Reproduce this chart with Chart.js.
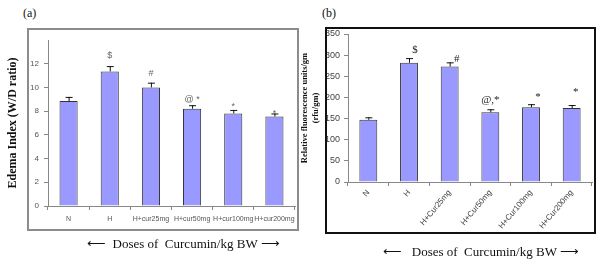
<!DOCTYPE html>
<html lang="en">
<head>
  <meta charset="UTF-8">
  <title>Edema index and fluorescence</title>
  <script src="https://cdn.jsdelivr.net/npm/chart.js@4"></script>
  <style>
    body {
      margin: 0;
      padding: 0;
      background: #fff;
      width: 600px;
      height: 263px;
      position: relative;
      overflow: hidden;
      font-family: "Liberation Serif", serif;
    }
    canvas { position: absolute; top: 0; }
    #chartA { left: 0; }
    #chartB { left: 300px; }
    .frame { position: absolute; box-sizing: border-box; pointer-events: none; }
    #frameA { left: 27px; top: 28px; width: 272px; height: 203px; border: 2px solid #8c8c8c; }
    #frameB { left: 325px; top: 27px; width: 271px; height: 207px; border: 2px solid #111; }
    .panel { position: absolute; font-size: 12px; color: #111; }
    .doses { position: absolute; font-size: 13px; color: #111; white-space: nowrap; }
  </style>
</head>
<body>
  <div class="panel" style="left:23px;top:6px;">(a)</div>
  <div class="panel" style="left:322px;top:6px;">(b)</div>

  <canvas id="chartA" width="300" height="263"></canvas>
  <canvas id="chartB" width="300" height="263"></canvas>

  <div class="frame" id="frameA"></div>
  <div class="frame" id="frameB"></div>

  <div class="doses" style="left:87px;top:236px;">&#x27F5;&nbsp; Doses of&nbsp; Curcumin/kg BW &#x27F6;</div>
  <div class="doses" style="left:383px;top:244px;">&#x27F5;&nbsp;&nbsp; Doses of&nbsp; Curcumin/kg BW &#x27F6;</div>

  <script>
    // Painel (a) - indice de edema
    const groupsA = ['N', 'H', 'H+cur25mg', 'H+cur50mg', 'H+cur100mg', 'H+cur200mg'];
    const edemaIndex = [8.85, 11.35, 10.0, 8.2, 7.8, 7.55];
    const edemaError = [0.35, 0.45, 0.4, 0.3, 0.3, 0.25];
    const edemaMarks = ['', '$', '#', '@ *', '*', '*'];
    const edemaMarkAt = [null, 12.7, 11.2, 9.0, 8.4, 7.8];

    // Painel (b) - fluorescencia relativa
    const groupsB = ['N', 'H', 'H+Cur25mg', 'H+Cur50mg', 'H+Cur100mg', 'H+Cur200mg'];
    const rfuValues = [147, 282, 273, 165, 177, 175];
    const rfuError = [6, 11, 10, 7, 7, 7];
    const rfuMarks = ['', '$', '#', '@,*', '*', '*'];
    const rfuMarkAt = [null, 312, 291, 194, 201, 213];

    // desenha barras de erro e marcas de significancia
    const errorPlugin = {
      id: 'errorMarks',
      afterDatasetsDraw(chart, args, opts) {
        const ctx = chart.ctx;
        const meta = chart.getDatasetMeta(0);
        const y = chart.scales.y;
        ctx.save();
        meta.data.forEach((bar, i) => {
          const v = opts.values[i];
          const top = y.getPixelForValue(v + opts.errors[i]);
          const base = y.getPixelForValue(v);
          ctx.strokeStyle = '#111';
          ctx.lineWidth = 1;
          ctx.beginPath();
          ctx.moveTo(bar.x + 0.5, base);
          ctx.lineTo(bar.x + 0.5, top);
          ctx.moveTo(bar.x - 3, top + 0.5);
          ctx.lineTo(bar.x + 4, top + 0.5);
          ctx.stroke();
          if (opts.marks[i]) {
            ctx.fillStyle = opts.markColor;
            ctx.font = opts.markFont;
            ctx.textAlign = 'center';
            ctx.textBaseline = 'middle';
            ctx.fillText(opts.marks[i], bar.x + (opts.shift[i] || 0), y.getPixelForValue(opts.markAt[i]));
          }
        });
        ctx.restore();
      }
    };

    function barDataset(values) {
      return {
        data: values,
        backgroundColor: '#9999ff',
        borderColor: '#333',
        borderWidth: 1,
        barPercentage: 0.44,
        categoryPercentage: 1
      };
    }

    new Chart(document.getElementById('chartA'), {
      type: 'bar',
      data: { labels: groupsA, datasets: [barDataset(edemaIndex)] },
      options: {
        responsive: false,
        animation: false,
        layout: { padding: { left: 0, top: 40, right: 5, bottom: 0 } },
        plugins: {
          legend: { display: false },
          tooltip: { enabled: false },
          errorMarks: {
            values: edemaIndex, errors: edemaError, marks: edemaMarks, markAt: edemaMarkAt,
            shift: [0, 0, 0, 0, 0, 0],
            markColor: '#666', markFont: '9px "Liberation Sans"'
          }
        },
        scales: {
          x: {
            grid: { drawOnChartArea: false, tickLength: 4, color: '#888' },
            border: { color: '#888' },
            ticks: { font: { family: 'Liberation Sans', size: 7 }, color: '#555', autoSkip: false, maxRotation: 0, padding: 5 },
            afterFit: s => { s.height = 57; }
          },
          y: {
            min: 0, max: 14,
            grid: { drawOnChartArea: false, tickLength: 4, color: '#888' },
            border: { color: '#888' },
            ticks: { stepSize: 2, font: { family: 'Liberation Sans', size: 8 }, color: '#555', padding: 5 },
            afterBuildTicks: s => { s.ticks = s.ticks.filter(t => t.value <= 12); },
            title: {
              display: true, text: 'Edema Index (W/D ratio)', color: '#111',
              font: { family: 'Liberation Serif', size: 12, weight: 'bold' },
              padding: { top: 6, bottom: 0 }
            },
            afterFit: s => { s.width = 48; }
          }
        }
      },
      plugins: [errorPlugin]
    });

    new Chart(document.getElementById('chartB'), {
      type: 'bar',
      data: { labels: groupsB, datasets: [barDataset(rfuValues)] },
      options: {
        responsive: false,
        animation: false,
        layout: { padding: { left: 0, top: 34, right: 8, bottom: 0 } },
        plugins: {
          legend: { display: false },
          tooltip: { enabled: false },
          errorMarks: {
            values: rfuValues, errors: rfuError, marks: rfuMarks, markAt: rfuMarkAt,
            shift: [0, 6, 7, 0, 7, 4],
            markColor: '#222', markFont: '11px "Liberation Serif"'
          }
        },
        scales: {
          x: {
            grid: { drawOnChartArea: false, tickLength: 4, color: '#888' },
            border: { color: '#888' },
            ticks: { font: { family: 'Liberation Sans', size: 8 }, color: '#444', autoSkip: false, maxRotation: 50, minRotation: 50, padding: 2 },
            afterFit: s => { s.height = 81; }
          },
          y: {
            min: 0, max: 350,
            grid: { drawOnChartArea: false, tickLength: 4, color: '#888' },
            border: { color: '#888' },
            ticks: { stepSize: 50, font: { family: 'Liberation Sans', size: 9 }, color: '#444', padding: 4 },
            title: {
              display: true, text: ['Relative fluorescence units/gm', '(rfu/gm)'], color: '#111',
              font: { family: 'Liberation Serif', size: 8.5, weight: 'bold' },
              padding: { top: 0, bottom: 0 }
            },
            afterFit: s => { s.width = 48; }
          }
        }
      },
      plugins: [errorPlugin]
    });
  </script>
</body>
</html>
